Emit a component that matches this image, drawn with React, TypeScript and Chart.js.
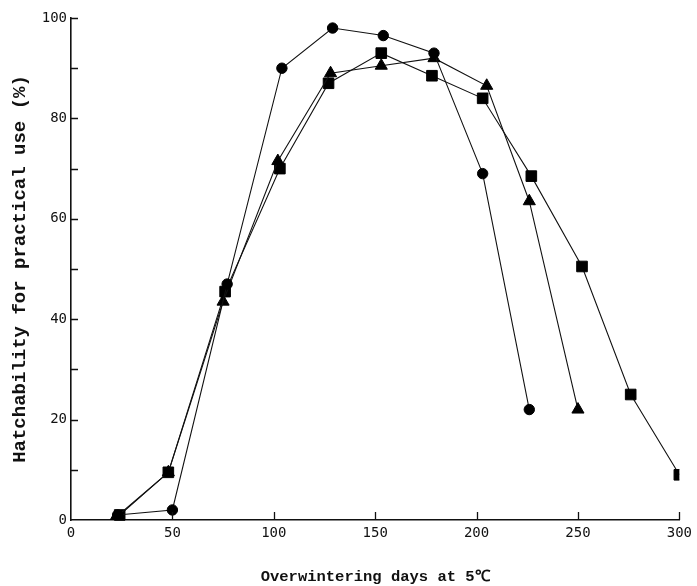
import React, { useEffect, useRef } from "react";
import { Chart, registerables } from "chart.js";

Chart.register(...registerables);

const circleDays = [23, 50, 77, 104, 129, 154, 179, 203, 226];
const circleHatch = [1, 2, 47, 90, 98, 96.5, 93, 69, 22];
const triangleDays = [22, 48, 75, 102, 128, 153, 179, 205, 226, 250];
const triangleHatch = [0.5, 9.5, 43.5, 71.5, 89, 90.5, 92, 86.5, 63.5, 22];
const squareDays = [24, 48, 76, 103, 127, 153, 178, 203, 227, 252, 276, 300];
const squareHatch = [1, 9.5, 45.5, 70, 87, 93, 88.5, 84, 68.5, 50.5, 25, 9];

const xTickValues = [50, 100, 150, 200, 250, 300];
const yTickValues = [10, 20, 30, 40, 50, 60, 70, 80, 90, 100];

const xTitle = "Overwintering days at 5\u2103";
const yTitle = "Hatchability for practical use (%)";

const toPoints = (xs: number[], ys: number[]) => xs.map((x, i) => ({ x, y: ys[i] }));

const inwardTicks = {
  id: "inwardTicks",
  afterDraw(chart: any) {
    const { ctx, chartArea, scales } = chart;
    ctx.save();
    ctx.strokeStyle = "#111";
    ctx.lineWidth = 1.3;
    ctx.beginPath();
    yTickValues.forEach((v) => {
      const y = Math.round(scales.y.getPixelForValue(v)) + 0.5;
      ctx.moveTo(chartArea.left, y);
      ctx.lineTo(chartArea.left + 7, y);
    });
    xTickValues.forEach((v) => {
      const x = Math.round(scales.x.getPixelForValue(v)) + 0.5;
      ctx.moveTo(x, chartArea.bottom);
      ctx.lineTo(x, chartArea.bottom - 8);
    });
    ctx.stroke();
    ctx.restore();
  },
};

export default function App() {
  const ref = useRef<HTMLCanvasElement | null>(null);
  useEffect(() => {
    document.body.style.margin = "0";
    const canvas = ref.current;
    if (!canvas) return;
    const lineBase = {
      showLine: true,
      borderColor: "#111",
      backgroundColor: "#000",
      pointBackgroundColor: "#000",
      pointBorderColor: "#000",
      borderWidth: 1.1,
      pointBorderWidth: 1,
      tension: 0,
      fill: false,
    };
    const chart = new Chart(canvas, {
      type: "scatter",
      data: {
        datasets: [
          {
            ...lineBase,
            label: "circle",
            data: toPoints(circleDays, circleHatch),
            pointStyle: "circle",
            pointRadius: 5.2,
          },
          {
            ...lineBase,
            label: "triangle",
            data: toPoints(triangleDays, triangleHatch),
            pointStyle: "triangle",
            pointRadius: 7,
          },
          {
            ...lineBase,
            label: "square",
            data: toPoints(squareDays, squareHatch),
            pointStyle: "rect",
            pointRadius: 7.5,
            clip: { left: 12, top: 12, right: 0, bottom: 12 },
          },
        ],
      } as any,
      options: {
        animation: false,
        responsive: false,
        devicePixelRatio: 1,
        layout: { padding: { top: 18, right: 15, bottom: 0, left: 0 } },
        plugins: {
          legend: { display: false },
          tooltip: { enabled: false },
        },
        scales: {
          x: {
            type: "linear",
            min: 0,
            max: 300,
            ticks: {
              stepSize: 50,
              color: "#111",
              padding: 5,
              font: { family: "'DejaVu Sans Mono'", size: 14 },
            },
            grid: { display: true, drawOnChartArea: false, drawTicks: false },
            border: { display: true, color: "#111", width: 1.6 },
            title: {
              display: true,
              text: xTitle,
              color: "#111",
              font: { family: "'Liberation Mono'", size: 15.5, weight: "bold" },
              padding: { top: 0, bottom: 0 },
            },
            afterFit: (s: any) => {
              s.height = 66;
            },
          },
          y: {
            type: "linear",
            min: 0,
            max: 100,
            ticks: {
              stepSize: 20,
              color: "#111",
              padding: 4,
              font: { family: "'DejaVu Sans Mono'", size: 14 },
            },
            grid: { display: true, drawOnChartArea: false, drawTicks: false },
            border: { display: true, color: "#111", width: 1.6 },
            title: {
              display: true,
              text: yTitle,
              color: "#111",
              font: { family: "'Liberation Mono'", size: 19, weight: "bold" },
              padding: { top: 9, bottom: 0 },
            },
            afterFit: (s: any) => {
              s.width = 71;
            },
          },
        },
      } as any,
      plugins: [inwardTicks],
    });
    return () => chart.destroy();
  }, []);
  return (
    <div style={{ width: 697, height: 586, background: "#fff" }}>
      <canvas ref={ref} width={697} height={586} style={{ display: "block" }} />
    </div>
  );
}
